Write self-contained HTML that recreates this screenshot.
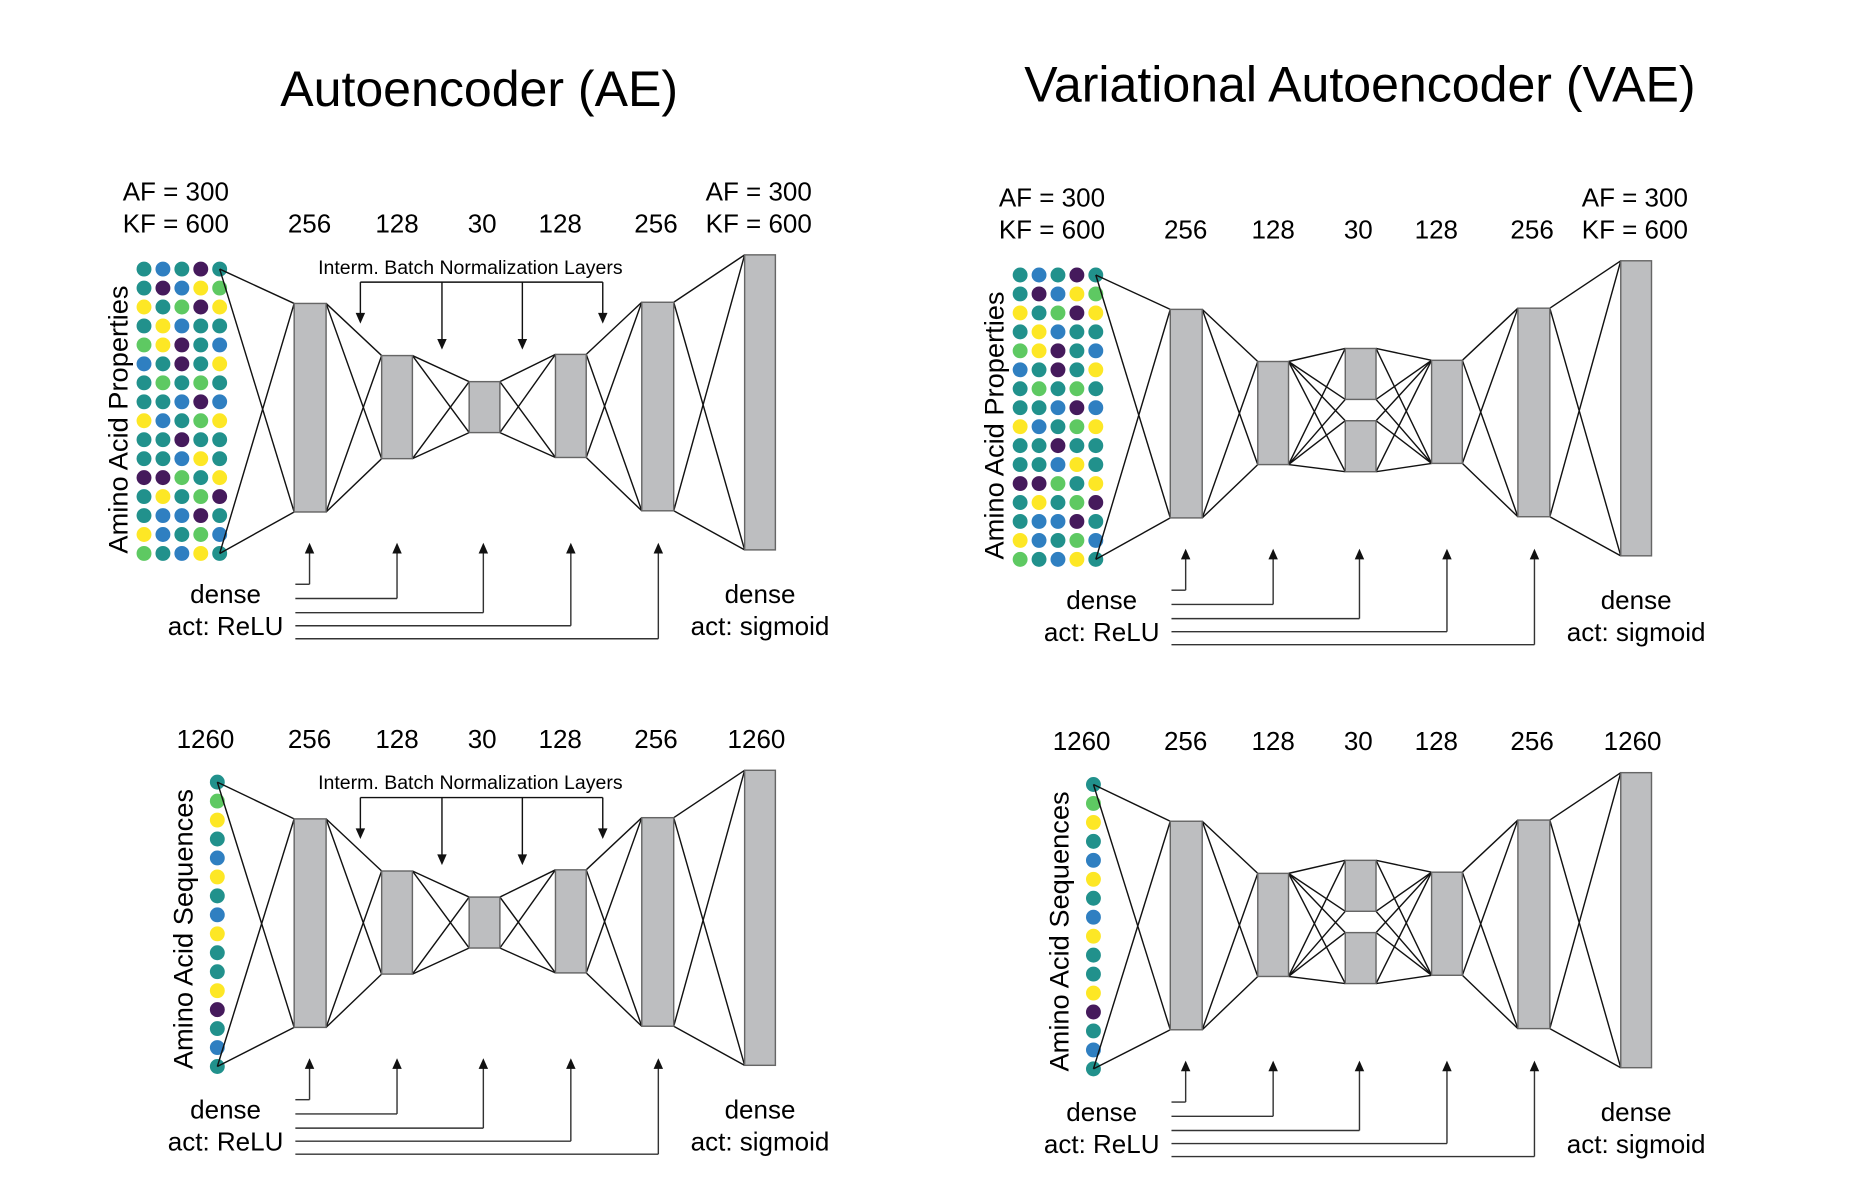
<!DOCTYPE html>
<html><head><meta charset="utf-8"><style>
html,body{margin:0;padding:0;background:#fff;}
svg{display:block;font-family:"Liberation Sans",sans-serif;}
</style></head><body>
<svg id="fig" width="1851" height="1198" viewBox="0 0 1553 1005" preserveAspectRatio="none" xmlns="http://www.w3.org/2000/svg">
<text x="402" y="89" font-size="42" text-anchor="middle">Autoencoder (AE)</text>
<text x="1141" y="85" font-size="42" text-anchor="middle">Variational Autoencoder (VAE)</text>
<g id="root" transform="matrix(0.992 0 0 0.994 -0.2 -0.9)"></g>
</svg>
<script>
// layer sizes shown in diagram
const inputLabelsProps = ["AF = 300","KF = 600"];
const hiddenLabels = ["256","128","30","128","256"];
const seqLabel = "1260";
const gridColors = [
"TBTPT","TPBYG","YTGPY","TYBTT","GYPTB","BTPTY","TGTGT","TTBPB",
"YBTGY","TTPTT","TTBYT","PPGTY","TYTGP","TBBPT","YBTGB","GTBYT"];
const seqColors = "TGYTBYTBYTTYPTBT";
const palette = {T:"#21918c",B:"#2f7fc1",P:"#451a5c",Y:"#fde725",G:"#5ec962"};

const root = document.getElementById('root');
const NS = "http://www.w3.org/2000/svg";
function mk(tag, attrs, parent){
  const e = document.createElementNS(NS, tag);
  for (const k in attrs) e.setAttribute(k, attrs[k]);
  (parent||root).appendChild(e);
  return e;
}
function line(g,x1,y1,x2,y2,c){ mk('line',{x1,y1,x2,y2,stroke:c||'#111','stroke-width':1.2},g); }
function text(g,x,y,s,size,anchor,name){
  const t = mk('text',{x,y,'font-size':size,'text-anchor':anchor||'middle'},g);
  
  
  t.textContent = s; return t;
}
function arrowHead(g,x,y,dir){
  const d = dir==='up' ? `M${x-4},${y+9} L${x+4},${y+9} L${x},${y} Z` : `M${x-4},${y-9} L${x+4},${y-9} L${x},${y} Z`;
  mk('path',{d,fill:'#111'},g);
}

function panel(ox, oy, vae, seq, name){
  const g = mk('g',{transform:`translate(${ox},${oy})`});
  
  
  const L = [[249,257,27,176],[323,301,26,87],[397,323,26,43],[470,300,26,87],[543,256,27,176]];
  const out = [630,216,26,249];
  let dotTop, dotBot, dotRight;
  if (!seq){
    const cols=[122,138,154,170,186];
    gridColors.forEach((row,r)=>{ for(let c=0;c<5;c++){
      const dot = mk('circle',{cx:cols[c],cy:228+r*16,r:6.3,fill:palette[row[c]]},g);
      
      
    }});
    dotTop=228; dotBot=468; dotRight=186;
  } else {
    for(let i=0;i<seqColors.length;i++){
      const dot = mk('circle',{cx:184,cy:226+i*16,r:6.3,fill:palette[seqColors[i]]},g);
      
      
    }
    dotTop=226; dotBot=466; dotRight=184;
  }
  const a=L[0];
  line(g,dotRight,dotTop,a[0],a[1]); line(g,dotRight,dotTop,a[0],a[1]+a[3]);
  line(g,dotRight,dotBot,a[0],a[1]); line(g,dotRight,dotBot,a[0],a[1]+a[3]);
  function conn(p,q){
    const px=p[0]+p[2], qx=q[0];
    [p[1],p[1]+p[3]].forEach(py=>[q[1],q[1]+q[3]].forEach(qy=>line(g,px,py,qx,qy)));
  }
  let mids;
  if (vae){ mids=[[397,290,26,43],[397,351,26,43]]; }
  else mids=[L[2]];
  conn(L[0],L[1]);
  mids.forEach(m=>{conn(L[1],m); conn(m,L[3]);});
  conn(L[3],L[4]); conn(L[4],out);
  const boxes = [L[0],L[1],...mids,L[3],L[4],out];
  boxes.forEach((b,i)=>{
    const r = mk('rect',{x:b[0],y:b[1],width:b[2],height:b[3],fill:'#bdbec0',stroke:'#666','stroke-width':1.2},g);
    
    
  });
  const ly = 197;
  const lx = [262,336,408,474,555];
  if(!seq){
    text(g,104,170,inputLabelsProps[0],22,'start','input-af-label');
    text(g,104,197,inputLabelsProps[1],22,'start','input-kf-label');
    text(g,597,170,inputLabelsProps[0],22,'start','output-af-label');
    text(g,597,197,inputLabelsProps[1],22,'start','output-kf-label');
    text(g,100,347,"Amino Acid Properties",23,'middle','y-axis-title').setAttribute('transform','rotate(-90 108 347)');
  } else {
    text(g,174,ly,seqLabel,22,'middle','input-size-label');
    text(g,640,ly,seqLabel,22,'middle','output-size-label');
    text(g,160,347,"Amino Acid Sequences",23,'middle','y-axis-title').setAttribute('transform','rotate(-90 163 347)');
  }
  hiddenLabels.forEach((s,i)=>text(g,lx[i],ly,s,22,'middle','layer-size-label'));
  if(!vae){
    text(g,398,232,"Interm. Batch Normalization Layers",16.5,'middle','bn-label');
    line(g,305,239,510,239);
    [[305,274],[374,296],[442,296],[510,274]].forEach(([x,y])=>{line(g,x,239,x,y-8); arrowHead(g,x,y,'down');});
  }
  const ax=[262,336,409,483,557], hy=[494,506,518,529,540];
  ax.forEach((x,i)=>{
    line(g,250,hy[i],x,hy[i],'#333'); line(g,x,hy[i],x,466,'#333'); arrowHead(g,x,459,'up');
  });
  text(g,191,510,"dense",22,'middle','encoder-dense-label');
  text(g,191,537,"act: ReLU",22,'middle','encoder-activation-label');
  text(g,643,510,"dense",22,'middle','decoder-dense-label');
  text(g,643,537,"act: sigmoid",22,'middle','decoder-activation-label');
}
panel(0,0,false,false,'ae-properties-panel');
panel(0,435,false,true,'ae-sequences-panel');
panel(741,5,true,false,'vae-properties-panel');
panel(741,437,true,true,'vae-sequences-panel');
</script>
</body></html>
